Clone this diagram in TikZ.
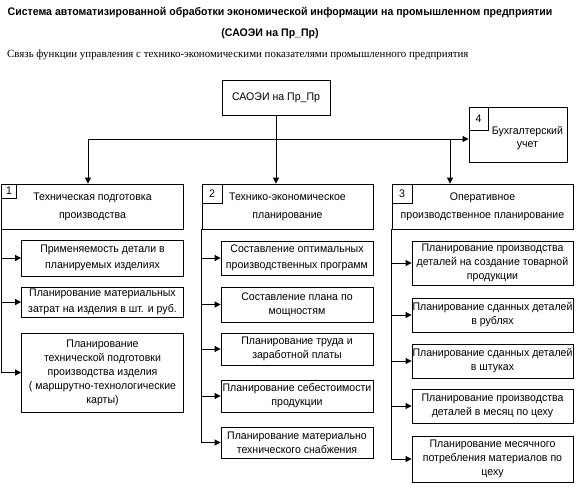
\documentclass[tikz,border=0pt]{standalone}
\usepackage{fontspec}
\setmainfont[FakeStretch=0.96]{Liberation Sans}
\newfontfamily\titlefont[FakeStretch=0.96]{Liberation Sans}
\newfontfamily\subfont[FakeStretch=0.99]{Liberation Serif}
\usetikzlibrary{arrows.meta}
\begin{document}
\begin{tikzpicture}[x=1pt,y=-1pt,
  every node/.style={font=\fontsize{11}{14}\selectfont},
  box/.style={draw, line width=0.8pt, inner sep=0.5pt, align=center},
  numcell/.style={draw, line width=0.8pt, inner sep=0pt, anchor=north west},
  hdr/.style={box, font=\fontsize{11}{18}\selectfont},
  ln/.style={draw, line width=0.8pt},
  arr/.style={draw, line width=0.8pt, -{Triangle[length=6pt,width=6pt]}}]
\useasboundingbox (0,0) rectangle (576,496);

% titles
\node[font=\titlefont\bfseries\fontsize{11}{13}\selectfont] (title) at (280,13) {Система автоматизированной обработки экономической информации на промышленном предприятии};
\node[font=\titlefont\bfseries\fontsize{11}{13}\selectfont] (title2) at (270,34) {(САОЭИ на Пр\_Пр)};
\node[anchor=west, font=\subfont\fontsize{11}{13}\selectfont, inner sep=0pt] (sub) at (7,55) {Связь функции управления с технико-экономическими показателями промышленного предприятия};

% top box
\node[box, minimum width=108pt, minimum height=35pt] (top) at (276,97.5) {САОЭИ на Пр\_Пр};

% box 4
\node[box, minimum width=98pt, minimum height=55pt] (b4) at (518,134.5) {};
\node[numcell, minimum width=19pt, minimum height=23pt] (n4) at (b4.north west) {4};
\node[align=center, font=\fontsize{11}{13}\selectfont] (t4) at (527.5,138.5) {Бухгалтерский\\учет};

% headers
\node[hdr, minimum width=182pt, minimum height=45pt] (h1) at (92.5,206.5) {Техническая подготовка\\производства};
\node[numcell, minimum width=15pt, minimum height=14pt] (n1) at (h1.north west) {1};
\node[hdr, minimum width=171pt, minimum height=45pt] (h2) at (287.5,206.5) {Технико-экономическое\\планирование};
\node[numcell, minimum width=20pt, minimum height=19pt] (n2) at (h2.north west) {2};
\node[hdr, minimum width=181pt, minimum height=45pt] (h3) at (482.5,206.5) {Оперативное\\производственное планирование};
\node[numcell, minimum width=20pt, minimum height=19pt] (n3) at (h3.north west) {3};

% column 1
\node[box, minimum width=162pt, minimum height=36pt, font=\fontsize{11}{16.5}\selectfont] (c1a) at (102.5,258) {Применяемость детали в\\планируемых изделиях};
\node[box, minimum width=162pt, minimum height=30pt, font=\fontsize{11}{16.5}\selectfont] (c1b) at (102.5,302) {Планирование материальных\\затрат на изделия в шт. и руб.};
\node[box, minimum width=162pt, minimum height=79pt] (c1c) at (102.5,372.5) {Планирование\\технической подготовки\\производства изделия\\( маршрутно-технологические\\карты)};

% column 2
\node[box, minimum width=152pt, minimum height=34pt, font=\fontsize{11}{16}\selectfont] (c2a) at (297,258) {Составление оптимальных\\производственных программ};
\node[box, minimum width=152pt, minimum height=35pt] (c2b) at (297,304.5) {Составление плана по\\мощностям};
\node[box, minimum width=152pt, minimum height=32pt] (c2c) at (297,349) {Планирование труда и\\заработной платы};
\node[box, minimum width=152pt, minimum height=32pt] (c2d) at (297,396) {Планирование себестоимости\\продукции};
\node[box, minimum width=152pt, minimum height=31pt] (c2e) at (297,442.5) {Планирование материально\\технического снабжения};

% column 3
\node[box, minimum width=161pt, minimum height=44pt] (c3a) at (492.5,263) {Планирование производства\\деталей на создание товарной\\продукции};
\node[box, minimum width=161pt, minimum height=34pt] (c3b) at (492.5,315) {Планирование сданных деталей\\в рублях};
\node[box, minimum width=161pt, minimum height=34pt] (c3c) at (492.5,361) {Планирование сданных деталей\\в штуках};
\node[box, minimum width=161pt, minimum height=34pt] (c3d) at (492.5,406) {Планирование производства\\деталей в месяц по цеху};
\node[box, minimum width=161pt, minimum height=46pt] (c3e) at (492.5,459) {Планирование месячного\\потребления материалов по\\цеху};

% bus
\coordinate (bl) at (88,139);
\coordinate (br) at (450,139);
\draw[ln] (top.south) -- (top.south |- bl);
\draw[arr] (bl) -- (bl -| b4.west);
\draw[arr] (bl) -- (bl |- h1.north);
\draw[arr] (top.south) -- (top.south |- h2.north);
\draw[arr] (br) -- (br |- h3.north);

% spines
\foreach \c in {c1a,c1b,c1c} \draw[arr] (h1.south west) |- (\c.west);
\foreach \c in {c2a,c2b,c2c,c2d,c2e} \draw[arr] (h2.south west) |- (\c.west);
\foreach \c in {c3a,c3b,c3c,c3d,c3e} \draw[arr] (h3.south west) |- (\c.west);
\end{tikzpicture}
\end{document}
